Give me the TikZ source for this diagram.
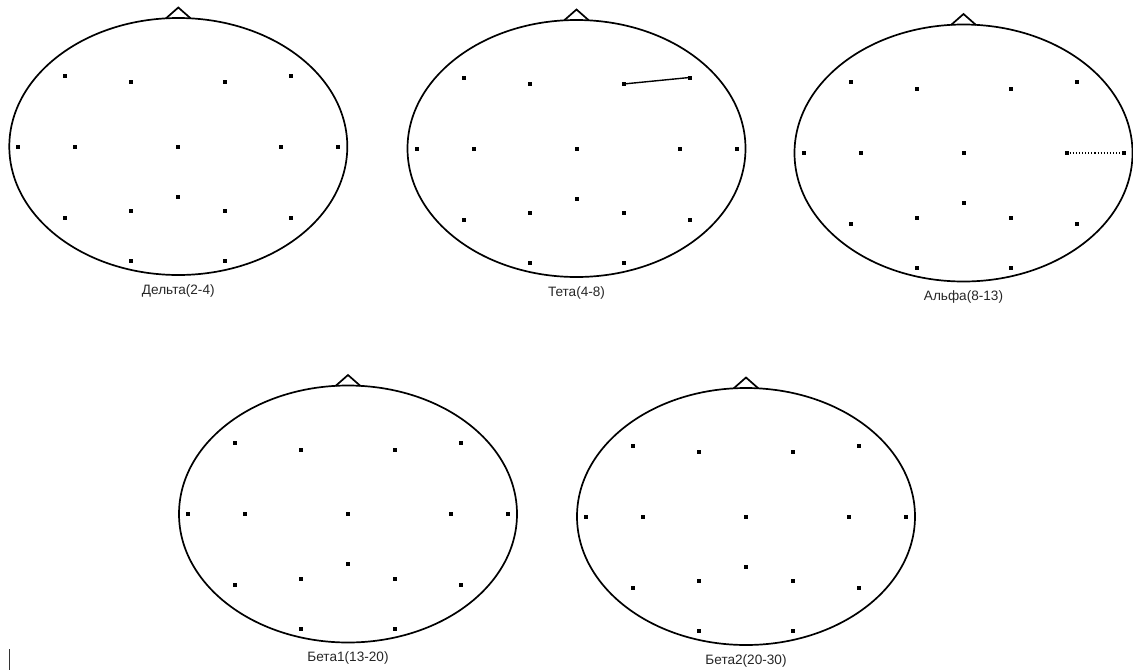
\documentclass[tikz,border=0pt]{standalone}
\usepackage{fontspec}
\setmainfont{Liberation Sans}
\begin{document}
\begin{tikzpicture}[x=1pt,y=-1pt,
  head/.style={line width=1.7pt},
  electrode/.style={rectangle,fill=black,inner sep=0pt,minimum size=4pt},
  bandlabel/.style={font=\fontsize{13.6}{16}\selectfont,inner sep=0pt,text=black!85},
  link/.style={line width=1.4pt},
  dotlink/.style={line width=1.1pt,dotted},
  cursorbar/.style={line width=1pt,black!80}]
\useasboundingbox (0,0) rectangle (1133,670);
\foreach \h/\cx/\cy/\lab in {1/178.3/146.5/{Дельта(2-4)},2/576.5/148.5/{Тета(4-8)},3/963.5/153/{Альфа(8-13)},4/348/514/{Бета1(13-20)},5/746/516.5/{Бета2(20-30)}}{
  \coordinate (h\h) at (\cx,\cy);
  \draw[head] (h\h) ellipse [x radius=169pt, y radius=128.5pt];
  \draw[head] ([shift={(-12.5,-128)}]h\h) -- ([shift={(0,-139)}]h\h) -- ([shift={(12.5,-128)}]h\h);
  \foreach \e/\dx/\dy in {1/-113/-71,2/-47/-64.5,3/47/-64.5,4/113/-71,5/-160/0,6/-103/0,7/0/0,8/103/0,9/160/0,10/0/50,11/-47/64.5,12/47/64.5,13/-113/71,14/113/71,15/-47/114.5,16/47/114.5}{
    \node[electrode] (h\h e\e) at ([shift={(\dx,\dy)}]h\h) {};
  }
  \node[bandlabel] (lab\h) at ([shift={(0,144)}]h\h) {\lab};
}
\draw[link] (h2e3.center) -- (h2e4.center);
\draw[dotlink] (h3e8.center) -- (h3e9.center);
\coordinate (cur1) at (9,649);
\coordinate (cur2) at (9,670);
\draw[cursorbar] (cur1) -- (cur2);
\end{tikzpicture}
\end{document}
